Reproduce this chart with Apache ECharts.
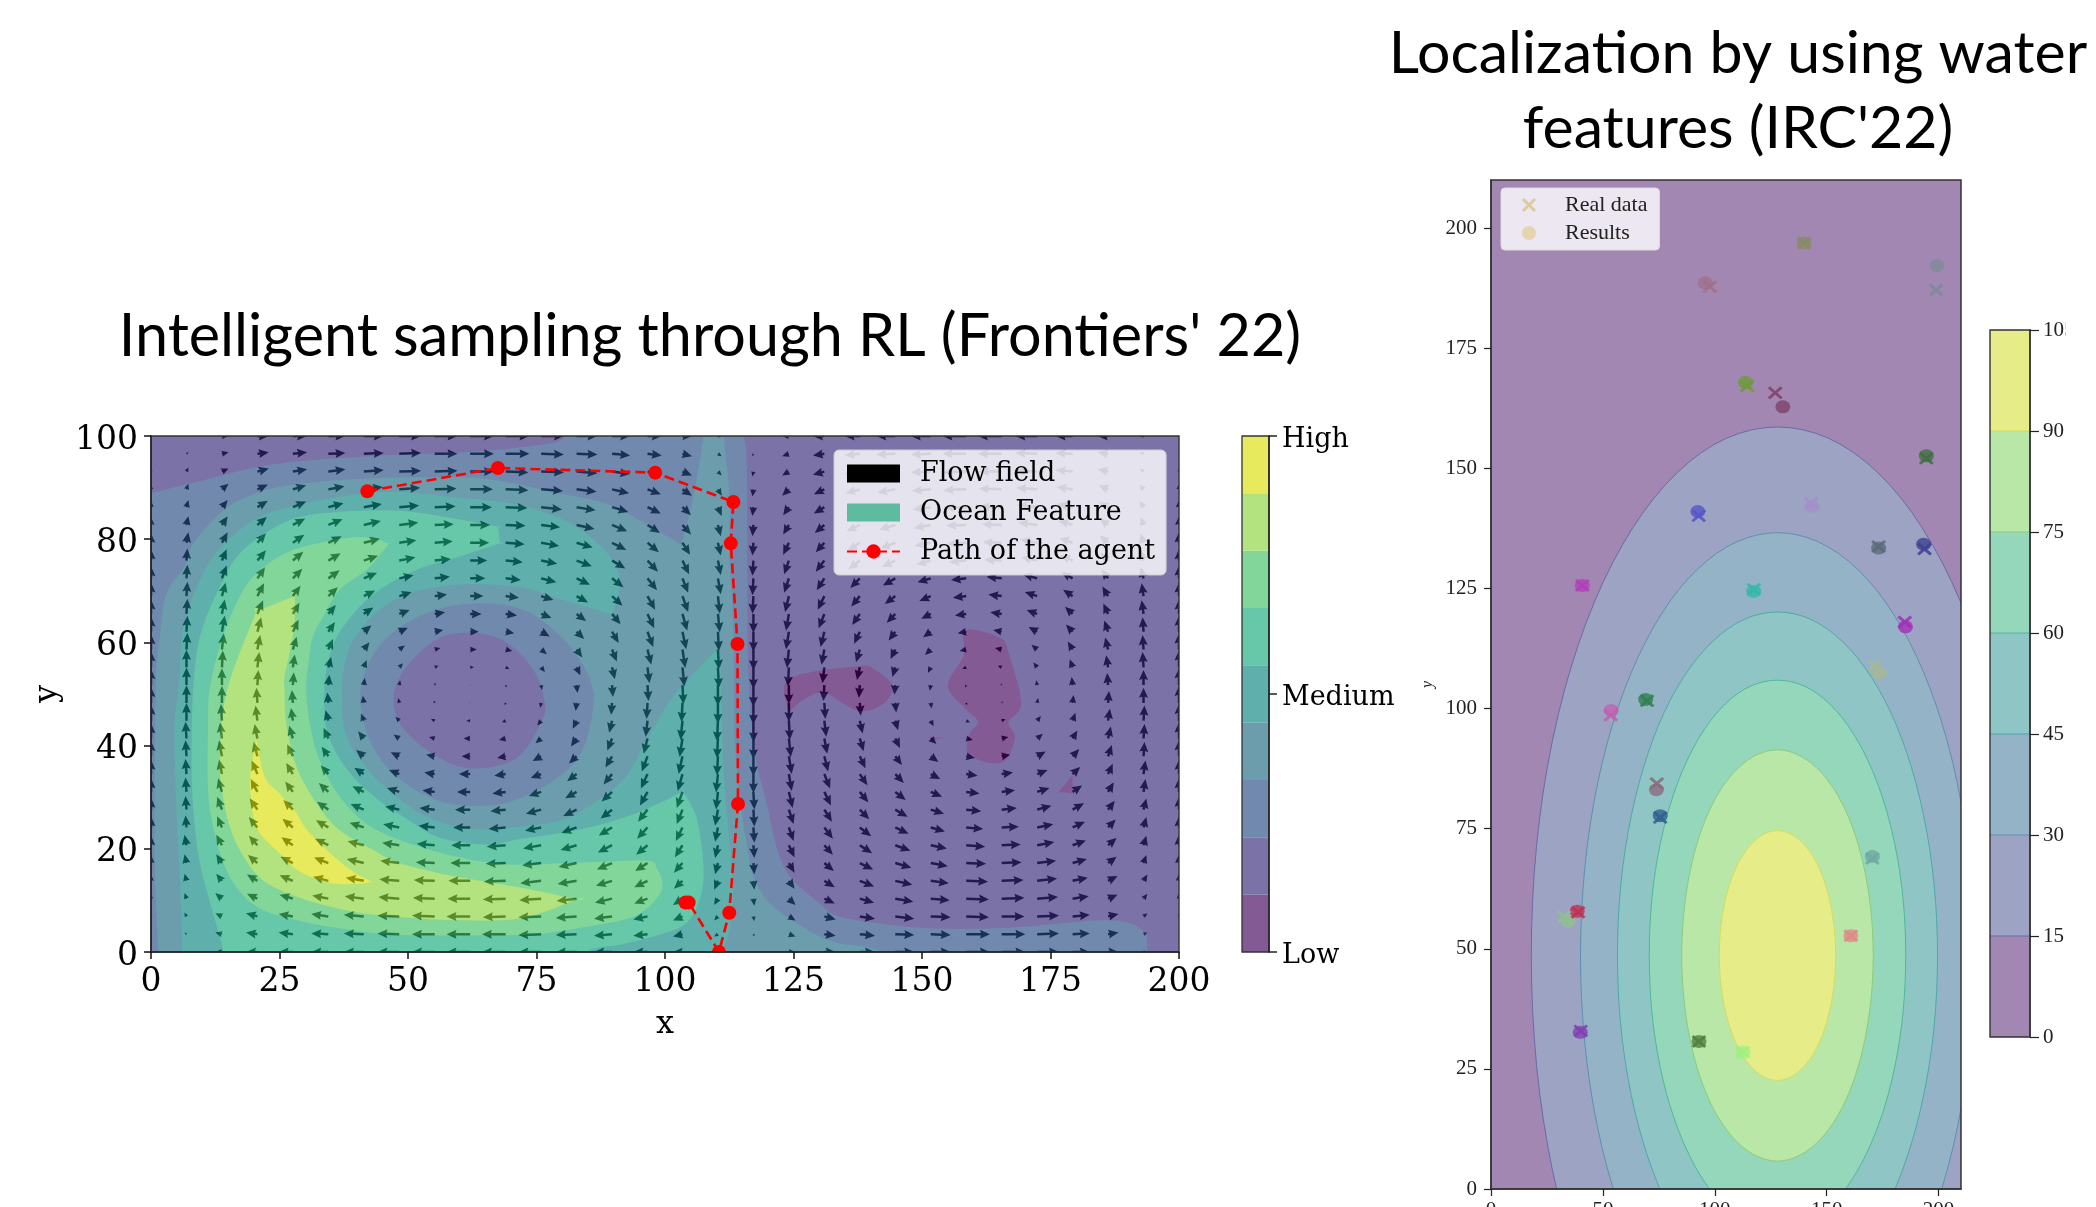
<!DOCTYPE html>
<html><head><meta charset="utf-8">
<style>html,body{margin:0;padding:0;background:#fff}#c{width:2096px;height:1207px}</style>
<script src="https://cdn.jsdelivr.net/npm/echarts@6/dist/echarts.min.js"></script>
</head><body><div id="c"></div>
<script>
// ---------- left plot: flow field ----------
const flowXs=[0,6.9,13.8,20.7,27.6,34.5,41.4,48.3,55.2,62.1,69,75.9,82.8,89.7,96.6,103.4,110.3,117.2,124.1,131,137.9,144.8,151.7,158.6,165.5,172.4,179.3,186.2,193.1,200];
const flowYs=[0,3.45,6.9,10.34,13.79,17.24,20.69,24.14,27.59,31.03,34.48,37.93,41.38,44.83,48.28,51.72,55.17,58.62,62.07,65.52,68.97,72.41,75.86,79.31,82.76,86.21,89.66,93.1,96.55,100];
const flowU=[
[0,-2,-7,-12,-15,-18,-21,-23,-24,-25,-25,-24,-22,-19,-15,-10,-4,1,7,12,16,20,21,25,25,23,18,11,4,0],
[0,-2,-7,-12,-15,-18,-21,-23,-24,-25,-25,-24,-22,-19,-15,-10,-4,1,7,12,16,20,21,25,25,23,18,11,4,0],
[0,-2,-7,-12,-15,-18,-21,-23,-24,-25,-24,-24,-22,-19,-15,-10,-4,1,7,12,16,20,21,24,24,23,18,11,4,0],
[0,-2,-7,-11,-14,-17,-20,-22,-23,-24,-24,-23,-21,-18,-14,-10,-4,1,7,11,15,19,20,24,24,22,17,10,4,0],
[0,-2,-6,-11,-14,-16,-19,-21,-22,-23,-23,-22,-20,-17,-14,-9,-4,1,6,11,15,18,19,23,23,21,16,10,4,0],
[0,-2,-6,-10,-13,-15,-18,-20,-20,-21,-21,-20,-19,-16,-13,-9,-3,1,6,10,14,17,18,21,21,20,15,9,3,0],
[0,-2,-6,-9,-12,-14,-17,-18,-19,-20,-20,-19,-17,-15,-12,-8,-3,1,6,9,13,16,17,20,20,18,14,9,3,0],
[0,-1,-5,-9,-11,-13,-15,-17,-17,-18,-18,-17,-16,-14,-11,-7,-3,1,5,9,12,14,15,18,18,17,13,8,3,0],
[0,-1,-5,-8,-10,-12,-14,-15,-16,-16,-16,-16,-14,-12,-10,-6,-3,1,5,8,10,13,14,16,16,15,12,7,3,0],
[0,-1,-4,-7,-8,-10,-12,-13,-13,-14,-14,-13,-12,-11,-8,-6,-2,1,4,7,9,11,12,14,14,13,10,6,2,0],
[0,-1,-3,-6,-7,-8,-10,-11,-11,-12,-12,-11,-10,-9,-7,-5,-2,0,3,6,8,9,10,12,12,11,8,5,2,0],
[0,-1,-3,-4,-6,-7,-8,-9,-9,-9,-9,-9,-8,-7,-6,-4,-1,0,3,4,6,7,8,9,9,9,7,4,1,0],
[0,-1,-2,-3,-4,-5,-6,-6,-6,-7,-7,-6,-6,-5,-4,-3,-1,0,2,3,4,5,6,7,7,6,5,3,1,0],
[0,0,-1,-2,-2,-3,-3,-4,-4,-4,-4,-4,-4,-3,-2,-2,-1,0,1,2,3,3,3,4,4,4,3,2,1,0],
[0,0,0,-1,-1,-1,-1,-1,-1,-1,-1,-1,-1,-1,-1,-1,0,0,0,1,1,1,1,1,1,1,1,1,0,0],
[0,0,0,1,1,1,1,1,1,1,1,1,1,1,1,1,0,0,0,-1,-1,-1,-1,-1,-1,-1,-1,-1,0,0],
[0,0,1,2,2,3,3,4,4,4,4,4,4,3,2,2,1,0,-1,-2,-3,-3,-3,-4,-4,-4,-3,-2,-1,0],
[0,1,2,3,4,5,6,6,6,7,7,6,6,5,4,3,1,0,-2,-3,-4,-5,-6,-7,-7,-6,-5,-3,-1,0],
[0,1,3,4,6,7,8,9,9,9,9,9,8,7,6,4,1,0,-3,-4,-6,-7,-8,-9,-9,-9,-7,-4,-1,0],
[0,1,3,6,7,8,10,11,11,12,12,11,10,9,7,5,2,0,-3,-6,-8,-9,-10,-12,-12,-11,-8,-5,-2,0],
[0,1,4,7,8,10,12,13,13,14,14,13,12,11,8,6,2,-1,-4,-7,-9,-11,-12,-14,-14,-13,-10,-6,-2,0],
[0,1,5,8,10,12,14,15,16,16,16,16,14,12,10,6,3,-1,-5,-8,-10,-13,-14,-16,-16,-15,-12,-7,-3,0],
[0,1,5,9,11,13,15,17,17,18,18,17,16,14,11,7,3,-1,-5,-9,-12,-14,-15,-18,-18,-17,-13,-8,-3,0],
[0,2,6,9,12,14,17,18,19,20,20,19,17,15,12,8,3,-1,-6,-9,-13,-16,-17,-20,-20,-18,-14,-9,-3,0],
[0,2,6,10,13,15,18,20,20,21,21,20,19,16,13,9,3,-1,-6,-10,-14,-17,-18,-21,-21,-20,-15,-9,-3,0],
[0,2,6,11,14,16,19,21,22,23,23,22,20,17,14,9,4,-1,-6,-11,-15,-18,-19,-23,-23,-21,-16,-10,-4,0],
[0,2,7,11,14,17,20,22,23,24,24,23,21,18,14,10,4,-1,-7,-11,-15,-19,-20,-24,-24,-22,-17,-10,-4,0],
[0,2,7,12,15,18,21,23,24,25,24,24,22,19,15,10,4,-1,-7,-12,-16,-20,-21,-24,-24,-23,-18,-11,-4,0],
[0,2,7,12,15,18,21,23,24,25,25,24,22,19,15,10,4,-1,-7,-12,-16,-20,-21,-25,-25,-23,-18,-11,-4,0],
[0,2,7,12,15,18,21,23,24,25,25,24,22,19,15,10,4,-1,-7,-12,-16,-20,-21,-25,-25,-23,-18,-11,-4,0]
];
const flowV=[
[0,0,0,0,0,0,0,0,0,0,0,0,0,0,0,0,0,0,0,0,0,0,0,0,0,0,0,0,0,0],
[2,2,2,2,2,1,1,1,0,0,0,-1,-1,-2,-2,-3,-3,-3,-3,-2,-2,-1,-1,0,0,1,1,2,2,2],
[4,5,4,4,3,3,2,1,1,0,-1,-1,-2,-3,-4,-5,-5,-6,-5,-4,-3,-3,-1,-1,0,1,2,3,4,4],
[6,7,7,6,5,4,3,2,1,0,-1,-2,-3,-5,-6,-8,-8,-9,-8,-6,-5,-4,-2,-1,1,2,3,5,6,7],
[8,9,9,8,7,5,4,2,1,0,-1,-3,-4,-6,-8,-10,-11,-11,-10,-8,-7,-5,-3,-1,1,3,4,6,8,9],
[10,11,11,10,8,7,5,3,1,0,-1,-3,-5,-8,-10,-12,-14,-14,-12,-10,-8,-6,-4,-1,1,3,5,8,10,11],
[12,13,13,12,10,8,5,3,2,0,-2,-4,-6,-9,-12,-15,-16,-16,-15,-12,-10,-7,-4,-2,1,4,6,9,12,13],
[14,15,14,13,11,9,6,4,2,0,-2,-4,-7,-10,-14,-17,-18,-19,-17,-14,-11,-8,-5,-2,1,4,7,10,13,14],
[15,17,16,14,12,10,7,4,2,0,-2,-5,-8,-11,-15,-18,-20,-21,-18,-15,-12,-9,-5,-2,2,5,8,11,14,16],
[17,18,17,16,13,11,7,5,2,0,-2,-5,-8,-12,-17,-20,-22,-22,-20,-17,-13,-10,-6,-2,2,5,8,12,16,17],
[18,19,18,17,14,11,8,5,2,0,-2,-5,-9,-13,-18,-21,-23,-24,-21,-18,-14,-11,-6,-2,2,5,9,13,17,18],
[19,20,20,18,15,12,8,5,2,0,-2,-6,-9,-14,-19,-22,-24,-25,-22,-19,-15,-11,-7,-2,2,6,9,14,18,20],
[19,21,20,18,16,13,9,5,2,0,-2,-6,-10,-15,-19,-23,-25,-26,-23,-19,-16,-12,-7,-2,2,6,10,15,18,20],
[20,22,21,19,16,13,9,5,2,0,-2,-6,-10,-15,-20,-24,-26,-27,-24,-20,-16,-12,-7,-2,2,6,10,15,19,21],
[20,22,21,19,16,13,9,6,3,0,-3,-6,-10,-15,-20,-24,-26,-27,-24,-20,-16,-12,-7,-3,2,6,10,15,19,21],
[20,22,21,19,16,13,9,6,3,0,-3,-6,-10,-15,-20,-24,-26,-27,-24,-20,-16,-12,-7,-3,2,6,10,15,19,21],
[20,22,21,19,16,13,9,5,2,0,-2,-6,-10,-15,-20,-24,-26,-27,-24,-20,-16,-12,-7,-2,2,6,10,15,19,21],
[19,21,20,18,16,13,9,5,2,0,-2,-6,-10,-15,-19,-23,-25,-26,-23,-19,-16,-12,-7,-2,2,6,10,15,18,20],
[19,20,20,18,15,12,8,5,2,0,-2,-6,-9,-14,-19,-22,-24,-25,-22,-19,-15,-11,-7,-2,2,6,9,14,18,20],
[18,19,18,17,14,11,8,5,2,0,-2,-5,-9,-13,-18,-21,-23,-24,-21,-18,-14,-11,-6,-2,2,5,9,13,17,18],
[17,18,17,16,13,11,7,5,2,0,-2,-5,-8,-12,-17,-20,-22,-22,-20,-17,-13,-10,-6,-2,2,5,8,12,16,17],
[15,17,16,14,12,10,7,4,2,0,-2,-5,-8,-11,-15,-18,-20,-21,-18,-15,-12,-9,-5,-2,2,5,8,11,14,16],
[14,15,14,13,11,9,6,4,2,0,-2,-4,-7,-10,-14,-17,-18,-19,-17,-14,-11,-8,-5,-2,1,4,7,10,13,14],
[12,13,13,12,10,8,5,3,2,0,-2,-4,-6,-9,-12,-15,-16,-16,-15,-12,-10,-7,-4,-2,1,4,6,9,12,13],
[10,11,11,10,8,7,5,3,1,0,-1,-3,-5,-8,-10,-12,-14,-14,-12,-10,-8,-6,-4,-1,1,3,5,8,10,11],
[8,9,9,8,7,5,4,2,1,0,-1,-3,-4,-6,-8,-10,-11,-11,-10,-8,-7,-5,-3,-1,1,3,4,6,8,9],
[6,7,7,6,5,4,3,2,1,0,-1,-2,-3,-5,-6,-8,-8,-9,-8,-6,-5,-4,-2,-1,1,2,3,5,6,7],
[4,5,4,4,3,3,2,1,1,0,-1,-1,-2,-3,-4,-5,-5,-6,-5,-4,-3,-3,-1,-1,0,1,2,3,4,4],
[2,2,2,2,2,1,1,1,0,0,0,-1,-1,-2,-2,-3,-3,-3,-3,-2,-2,-1,-1,0,0,1,1,2,2,2],
[0,0,0,0,0,0,0,0,0,0,0,0,0,0,0,0,0,0,0,0,0,0,0,0,0,0,0,0,0,0]
];
// ---------- left plot: ocean feature contour outlines ----------
const oceanL2=[[-60,-60],[-6,88],[0,89],[9.7,91.3],[23.6,94.5],[44.5,96.2],[61.9,96.9],[75.8,98.3],[80.7,100],[83,106],[114.6,106],[115.4,100],[115.9,94.7],[116,81.8],[116.2,54.7],[117.5,38.5],[119.8,28.8],[121.7,20.4],[124.3,14.6],[130.1,9.4],[133.8,6.9],[144.2,5.2],[154.7,4.5],[168.6,4.8],[186,6.2],[192.9,4.2],[193.9,0],[194.5,-6]];
const oceanL3=[[1.4,-6],[1.4,0],[0.7,18.5],[0.9,50.8],[1.7,61.1],[3,69.5],[6.6,74.7],[8.2,79.2],[13.4,85],[17.3,87.6],[23.8,89.9],[33.5,91.2],[43.2,91.8],[54.9,92],[65.4,91.7],[79.3,88.9],[87.3,87.3],[93.2,84.7],[103.2,78.9],[103.2,78.9],[105.5,88.2],[107.4,99.5],[108,106],[111.5,106],[111.5,99.5],[112.6,87.6],[112.5,77.3],[113.3,62.4],[113.6,40.4],[114.9,27.5],[115.9,21.1],[117.2,14.6],[120.4,9.4],[125.6,5.6],[130.1,3],[133.8,1.7],[142.1,0],[146,-6]];
const oceanRing=[[61.9,67.5],[72.3,66.4],[80.7,60.2],[85.5,52.6],[85.9,46.4],[83.4,38.1],[77.2,32.5],[68.2,28.7],[58.4,28.7],[50.8,31.8],[45.2,36.7],[42.1,42.2],[40.7,49.1],[42.1,55.4],[45.9,60.9],[52.9,65.4]];
const oceanCore=[[61.9,61.9],[68.8,60.2],[74.4,54.7],[76.6,48.4],[75.8,44.3],[70.9,37.4],[61.9,35.6],[54.2,38.8],[48,45],[48,52.6],[54.9,60.2]];
const oceanL4=[[6.1,-6],[6.1,0],[5.7,12],[4.8,31.4],[4.6,44.3],[5.3,50.8],[5.6,53.4],[6.2,62.4],[9.5,72.1],[13.7,78.6],[20.5,84],[28.3,86.6],[39.3,88.6],[48.4,89.2],[58.4,88.2],[72.3,86.5],[82.8,82.4],[89.7,76.1],[91.2,70.6],[89.7,65.4],[89.7,65.4],[79.3,68.5],[72.3,70.6],[61.9,71.3],[51.5,69.9],[44.5,66.4],[39.6,60.9],[37.6,55.4],[37.2,49.1],[37.9,42.2],[41.7,36],[46.6,31.1],[53.5,26.3],[61.9,23.9],[71.8,24.3],[81.5,26.2],[91.2,32.7],[95.8,39.8],[100.6,48.2],[106.8,55.3],[110,58.5],[110,58.5],[110.7,56.6],[111.3,37.2],[112.3,24.3],[113.3,11.4],[112.3,3],[110.7,0],[110,-6]];
const oceanL5=[[14,-6],[14,0],[13,4.3],[9.5,17.2],[8.2,28.2],[7.9,37.9],[8.2,50.8],[9.5,61.1],[13.4,70.8],[17.9,77.9],[27,83.7],[36.7,85.3],[48.4,85.5],[58.4,84.1],[67.5,82.4],[67.5,82.4],[67.9,79.2],[67.9,79.2],[58.4,76.1],[51.5,74],[43.1,69.2],[36.9,62.3],[34.4,56.1],[33.7,49.1],[34.4,42.2],[38.2,35.3],[43.8,29.8],[50.1,25.6],[56.3,22.1],[65.4,20.8],[71.8,21.9],[82.8,23.6],[92.5,26.2],[98.8,28.8],[103.5,31.1],[103.5,31.1],[106.1,26.2],[107.4,17.8],[107.1,11.4],[104.2,5.6],[97.7,3],[91.2,1.4],[84.7,0],[80,-6]];
const oceanL6=[[48.4,3.3],[36.7,4.6],[28.3,6.2],[20.5,8.8],[15.3,14.6],[12.4,23],[11.1,31.4],[11.1,44.3],[11.4,50.8],[13.4,59.2],[16.6,67.6],[20.5,73.4],[27.6,77.9],[38,80.2],[43.2,80.2],[46.3,79.1],[46.3,79.1],[44.5,76.9],[41.9,74],[36.7,70.2],[33.5,65],[31.5,61.1],[30.6,55.9],[30.2,50.8],[30.9,44.3],[32.8,37.2],[36.7,30.1],[41.9,24.9],[48.4,21.7],[58.4,18.7],[68.8,17],[79.6,17.2],[88,17.5],[96.8,17.7],[98.4,16.2],[99.5,13.3],[98.4,10.4],[93.8,6.8],[84.7,4.9],[78.2,3.9],[71.8,3.3]];
const oceanL7=[[14.8,50.8],[20.5,66],[20.5,66],[28,69],[28,69],[27.8,62.4],[26,53.4],[26,50.8],[26.3,44.3],[28.3,35.9],[32.2,28.8],[36.7,23.6],[43.2,19.8],[48.4,17.2],[58.4,14.8],[71.8,12.5],[82.8,10.2],[82.8,10.2],[71.8,6.5],[58.4,6.2],[48.4,6.8],[39.3,7.8],[30.2,10.1],[23.7,12.7],[19.8,15.9],[16,22.4],[14,30.1],[13.4,37.9]];
const oceanL8=[[20.5,41.1],[20.5,41.1],[22.1,34],[25,30.7],[28.3,26.9],[30.9,23],[38,16.5],[42.9,13.6],[42.9,13.6],[40,13.2],[34.8,13.4],[28.9,15.6],[25.7,18.5],[20.8,23.6],[19.5,29.5],[19.3,34],[19.9,37.9]];
const oceanIslandA=[[124.1,52.9],[137.6,55.4],[140.8,54.7],[144.2,51.6],[142.5,48.1],[137.6,46.7],[131,50.2],[126.8,48.8],[124.1,46.4],[124.1,46.4]];
const oceanIslandB=[[158.5,62.4],[165.1,60.9],[166.8,58.1],[169.3,48.1],[166.8,44.6],[168.1,41.5],[165.5,36.7],[159.2,38.1],[159.2,42.2],[160.9,44.6],[158.5,47.1],[155,51.6],[158.1,57.4]];
const oceanIslandC=[[179.3,34.3],[179.3,34.3],[179.3,30.8],[179.3,30.8],[176.6,31],[176.6,31]];
const oceanIslandD=[[151.5,41.7],[151.5,41.7],[154.3,41.5],[154.3,41.5],[151.9,41.2]];
// level colours
const oceanPalette=['#835a93','#7b72a8','#7189ad','#6b9dad','#5fafac','#66c7a9','#83d69a','#b2e37e','#e6ea5c'];
const oceanPolys=[oceanL2,oceanL3,oceanRing,oceanCore,oceanL4,oceanL5,oceanL6,oceanL7,oceanL8,oceanIslandA,oceanIslandB,oceanIslandC,oceanIslandD];
const oceanPolyLevels=[2,3,2,1,4,5,6,7,8,0,0,0,0];
// agent path
const pathXs=[42.1,67.5,98.1,113.3,112.8,114.1,114.2,112.5,110.5,104.6,104.0];
const pathYs=[89.3,93.8,92.9,87.2,79.2,59.7,28.7,7.6,0,9.6,9.6];
// left axes
const leftXTicks=[0,25,50,75,100,125,150,175,200];
const leftYTicks=[0,20,40,60,80,100];
const leftBarLabels={0:'Low',4.5:'Medium',9:'High'};
// ---------- right plot ----------
const gaussLevels=[0,15,30,45,60,75,90,105];
const gaussPalette=['#a287b3','#9da3c3','#95b3c7','#8fc5c4','#94d7bb','#b8e7a7','#e6ec87'];
const gaussLineColors=['#6a6aa8','#5f8fb0','#4fa8a8','#50b898','#8ccc78','#d2de60'];
const gauss15=[[238,48.6],[234.3,77.1],[223.3,103.6],[205.8,126.4],[183,143.9],[156.5,154.9],[128,158.6],[99.5,154.9],[73,143.9],[50.2,126.4],[32.7,103.6],[21.7,77.1],[18,48.6],[21.7,20.1],[32.7,-6.4],[50.2,-29.2],[73,-46.7],[99.5,-57.7],[128,-61.4],[156.5,-57.7],[183,-46.7],[205.8,-29.2],[223.3,-6.4],[234.3,20.1]];
const gauss30=[[216,48.6],[213,71.4],[204.2,92.6],[190.2,110.8],[172,124.8],[150.8,133.6],[128,136.6],[105.2,133.6],[84,124.8],[65.8,110.8],[51.8,92.6],[43,71.4],[40,48.6],[43,25.8],[51.8,4.6],[65.8,-13.6],[84,-27.6],[105.2,-36.4],[128,-39.4],[150.8,-36.4],[172,-27.6],[190.2,-13.6],[204.2,4.6],[213,25.8]];
const gauss45=[[199.5,48.6],[197.1,67.1],[189.9,84.4],[178.6,99.2],[163.8,110.5],[146.5,117.7],[128,120.1],[109.5,117.7],[92.2,110.5],[77.4,99.2],[66.1,84.4],[58.9,67.1],[56.5,48.6],[58.9,30.1],[66.1,12.8],[77.4,-2],[92.2,-13.3],[109.5,-20.5],[128,-22.9],[146.5,-20.5],[163.8,-13.3],[178.6,-2],[189.9,12.8],[197.1,30.1]];
const gauss60=[[185.3,48.6],[183.4,63.4],[177.6,77.3],[168.5,89.1],[156.7,98.2],[142.8,104],[128,105.9],[113.2,104],[99.3,98.2],[87.5,89.1],[78.4,77.3],[72.6,63.4],[70.7,48.6],[72.6,33.8],[78.4,19.9],[87.5,8.1],[99.3,-1],[113.2,-6.8],[128,-8.7],[142.8,-6.8],[156.7,-1],[168.5,8.1],[177.6,19.9],[183.4,33.8]];
const gauss75=[[170.8,48.6],[169.3,59.7],[165.1,70],[158.3,78.9],[149.4,85.7],[139.1,89.9],[128,91.4],[116.9,89.9],[106.6,85.7],[97.7,78.9],[90.9,70],[86.7,59.7],[85.2,48.6],[86.7,37.5],[90.9,27.2],[97.7,18.3],[106.6,11.5],[116.9,7.3],[128,5.8],[139.1,7.3],[149.4,11.5],[158.3,18.3],[165.1,27.2],[169.3,37.5]];
const gauss90=[[154,48.6],[153.1,55.3],[150.5,61.6],[146.4,67],[141,71.1],[134.7,73.7],[128,74.6],[121.3,73.7],[115,71.1],[109.6,67],[105.5,61.6],[102.9,55.3],[102,48.6],[102.9,41.9],[105.5,35.6],[109.6,30.2],[115,26.1],[121.3,23.5],[128,22.6],[134.7,23.5],[141,26.1],[146.4,30.2],[150.5,35.6],[153.1,41.9]];
const gaussPolys=[gauss15,gauss30,gauss45,gauss60,gauss75,gauss90];
const realXs=[139.9,198.9,97.8,114.5,127,194.5,142.9,92.8,173.2,193.7,40.8,117.4,184.9,171.6,69.7,53.5,74.1,75.6,170.4,38.9,32.7,160.8,40.1,92.9,112.6];
const realYs=[196.9,187.1,187.8,167.1,165.7,152.1,142.8,140.1,133.7,133.2,125.6,124.8,118,108.8,101.6,98.6,84.4,77.3,68.8,57.6,56.7,52.7,32.9,30.7,28.5];
const resultXs=[139.9,199.3,95.7,113.7,130.4,194.5,143.5,92.4,173.2,193.3,40.8,117.4,185.2,173.5,69.1,53.7,73.9,75.6,170.4,38.5,34.5,160.8,39.9,92.9,112.6];
const resultYs=[196.9,192.2,188.6,167.9,162.8,152.6,142.1,141,133.4,134.2,125.6,124.4,117,107.3,101.9,99.6,83.1,77.7,69.2,57.8,55.7,52.7,32.6,30.7,28.5];
const pointColors=['#8a8a68','#7d8a98','#a0708a','#6d9a3a','#7d3f6a','#3f6f3f','#a48fc8','#5555c8','#5a6a78','#3f3f90','#b040b8','#30b8a8','#a030b8','#a8b890','#2f7f4f','#c060b0','#8a6a80','#2f5f90','#70a8a0','#c03050','#90c090','#e08888','#8040b0','#4f7f3f','#a0f080'];
const rightXTicks=[0,50,100,150,200];
const rightYTicks=[0,25,50,75,100,125,150,175,200];
// ---------- helpers ----------
function smoothLoop(pts){ // closed Catmull-Rom through the traced points
  const o=[],n=pts.length;
  for(let i=0;i<n;i++){
    const a=pts[(i-1+n)%n],b=pts[i],c=pts[(i+1)%n],d=pts[(i+2)%n];
    for(let s=0;s<5;s++){const t=s/5,t2=t*t,t3=t2*t;
      o.push([0,1].map(k=>.5*(2*b[k]+(c[k]-a[k])*t+(2*a[k]-5*b[k]+4*c[k]-d[k])*t2+(3*b[k]-a[k]-3*c[k]+d[k])*t3)));}
  }
  return o;
}
function arrowPoly(p,u,v){
  u*=0.95;v*=0.8;
  let L=Math.hypot(u,v); if(!L) return null;
  const dx=u/L,dy=-v/L;
  let sw=2.5,hl=10,hw=9,ha=9;
  if(L<hl){const k=L/hl;sw*=k;hl*=k;hw*=k;ha*=k;}
  const P=(a,b)=>[p[0]+dx*a-dy*b,p[1]+dy*a+dx*b];
  return [P(0,-sw/2),P(L-ha,-sw/2),P(L-hl,-hw/2),P(L,0),P(L-hl,hw/2),P(L-ha,sw/2),P(0,sw/2)];
}
const flowData=[];
flowYs.forEach((y,j)=>flowXs.forEach((x,i)=>flowData.push([x,y,flowU[j][i],flowV[j][i]])));
const idx=a=>a.map((_,i)=>[i]);
const xCross='path://M1.5,0L5,3.5L8.5,0L10,1.5L6.5,5L10,8.5L8.5,10L5,6.5L1.5,10L0,8.5L3.5,5L0,1.5Z';
const serif='DejaVu Serif', cm='Liberation Serif';
const pad=(t,o)=>Object.assign({},t,o);
const tickL={show:true,length:7,lineStyle:{color:'#111',width:1.5}};
const lineL={show:true,onZero:false,lineStyle:{color:'#222',width:1.5}};
const tickR={show:true,length:7,lineStyle:{color:'#222',width:1.2}};
const lineR={show:true,onZero:false,lineStyle:{color:'#333',width:1.5}};
const frameItem=(x0,x1,y0,y1,c,w)=>(p,api)=>{const a=api.coord([x0,y1]),b=api.coord([x1,y0]);
  return {type:'rect',shape:{x:a[0],y:a[1],width:b[0]-a[0],height:b[1]-a[1]},style:{fill:'none',stroke:c,lineWidth:w}};};
// all arrows form one path so that overlapping arrows do not blend twice
const renderFlow=(p,api)=>{
  let d='',x0=1e9,y0=1e9,x1=-1e9,y1=-1e9;
  flowData.forEach(f=>{const pts=arrowPoly(api.coord([f[0],f[1]]),f[2],f[3]);if(!pts)return;
    pts.forEach((q,i)=>{d+=(i?'L':'M')+q[0].toFixed(2)+' '+q[1].toFixed(2);x0=Math.min(x0,q[0]);y0=Math.min(y0,q[1]);x1=Math.max(x1,q[0]);y1=Math.max(y1,q[1]);});
    d+='Z';});
  return {type:'path',shape:{pathData:d,x:x0,y:y0,width:x1-x0,height:y1-y0,layout:'cover'},style:{fill:'rgb(88,88,88)'}};
};

const option={
  animation:false,
  backgroundColor:'#fff',
  title:[
    {text:"Intelligent sampling through RL (Frontiers' 22)",left:705,top:302,textAlign:'center',textStyle:{fontFamily:'Lato',fontWeight:'normal',fontSize:59.3,color:'#000'}},
    {text:"Localization by using water\nfeatures (IRC'22)",left:1733,top:11,textAlign:'center',textStyle:{fontFamily:'Lato',fontWeight:'normal',fontSize:59,lineHeight:75,color:'#000'}}
  ],
  grid:[
    {left:151,top:436,width:1028,height:516,show:true,backgroundColor:oceanPalette[1],borderWidth:0,outerBoundsMode:'none'},
    {left:1242,top:436,width:27,height:516,outerBoundsMode:'none'},
    {left:1491,top:180,width:470,height:1009,show:true,backgroundColor:gaussPalette[0],borderWidth:0,outerBoundsMode:'none'},
    {left:1990,top:330,width:40,height:707,outerBoundsMode:'none'}
  ],
  xAxis:[
    {gridIndex:0,type:'value',min:0,max:200,interval:25,z:10,name:'x',nameLocation:'middle',nameGap:57,nameTextStyle:{fontFamily:serif,fontSize:32,color:'#000'},
     axisLine:lineL,axisTick:tickL,splitLine:{show:false},axisLabel:{customValues:leftXTicks,fontFamily:serif,fontSize:33,color:'#000',margin:14}},
    {gridIndex:1,type:'value',min:0,max:1,show:false},
    {gridIndex:2,type:'value',min:0,max:210,z:10,name:'',axisLine:lineR,axisTick:pad(tickR,{customValues:rightXTicks}),splitLine:{show:false},
     axisLabel:{customValues:rightXTicks,fontFamily:cm,fontSize:21,color:'#222',margin:11}},
    {gridIndex:3,type:'value',min:0,max:1,show:false}
  ],
  yAxis:[
    {gridIndex:0,type:'value',min:0,max:100,interval:20,z:10,name:'y',nameLocation:'middle',nameGap:87,nameTextStyle:{fontFamily:serif,fontSize:32,color:'#000'},
     axisLine:lineL,axisTick:tickL,splitLine:{show:false},
     axisLabel:{customValues:leftYTicks,margin:13,formatter:v=>'{a|'+v+'}',rich:{a:{fontFamily:serif,fontSize:33,color:'#000',padding:[8,0,0,0]}}}},
    {gridIndex:1,type:'value',min:0,max:9,position:'right',z:10,axisLine:{show:true,onZero:false,lineStyle:{color:'#222',width:1.5}},
     axisTick:{show:true,length:8,customValues:[0,4.5,9],lineStyle:{color:'#222',width:1.5}},splitLine:{show:false},
     axisLabel:{customValues:[0,4.5,9],margin:13,formatter:v=>'{a|'+leftBarLabels[v]+'}',rich:{a:{fontFamily:serif,fontSize:27,color:'#000',padding:[8,0,0,0]}}}},
    {gridIndex:2,type:'value',min:0,max:210,z:10,name:'y',nameLocation:'middle',nameGap:55,nameTextStyle:{fontFamily:cm,fontStyle:'italic',fontSize:16,color:'#222'},
     axisLine:lineR,axisTick:pad(tickR,{customValues:rightYTicks}),splitLine:{show:false},
     axisLabel:{customValues:rightYTicks,fontFamily:cm,fontSize:21,color:'#222',margin:14}},
    {gridIndex:3,type:'value',min:0,max:105,interval:15,position:'right',z:10,axisLine:lineR,axisTick:pad(tickR,{length:9}),splitLine:{show:false},
     axisLabel:{fontFamily:cm,fontSize:21,color:'#222',margin:13}}
  ],
  legend:[
    {show:true,orient:'vertical',left:834,top:450,padding:[10,11,10,12],itemWidth:53,itemHeight:18,itemGap:12,
     backgroundColor:'rgba(255,255,255,0.8)',borderColor:'#ccc',borderWidth:1,borderRadius:5,
     textStyle:{fontFamily:serif,fontSize:27,color:'#000',padding:[0,0,0,15]},
     data:[{name:'Flow field',icon:'rect'},{name:'Ocean Feature',icon:'rect'},{name:'Path of the agent'}]},
    {show:true,orient:'vertical',left:1501,top:188,padding:[6,12,6,21],itemWidth:20,itemHeight:14,itemGap:6,
     backgroundColor:'rgba(255,255,255,0.8)',borderColor:'#ddd',borderWidth:1,borderRadius:4,
     textStyle:{fontFamily:cm,fontSize:22,color:'#222',padding:[0,0,0,21]},
     data:[{name:'Real data',icon:xCross},{name:'Results',icon:'circle'}]}
  ],
  graphic:[{type:'rect',z:100,silent:true,shape:{x:2065.5,y:316,width:31,height:30},style:{fill:'#fff'}}],
  series:[
    {name:'Ocean Feature',type:'custom',xAxisIndex:0,yAxisIndex:0,clip:true,z:1,silent:true,itemStyle:{color:'#5fbba0'},
     data:idx(oceanPolys),renderItem:(p,api)=>{const k=api.value(0);
       return {type:'polygon',shape:{points:smoothLoop(oceanPolys[k].map(q=>api.coord(q)))},style:{fill:oceanPalette[oceanPolyLevels[k]]}};}},
    {name:'Flow field',type:'custom',xAxisIndex:0,yAxisIndex:0,clip:true,z:2,silent:true,blendMode:'difference',itemStyle:{color:'#000'},
     data:[[0]],renderItem:renderFlow},
    {name:'Path of the agent',type:'line',xAxisIndex:0,yAxisIndex:0,clip:true,z:3,silent:true,symbol:'circle',symbolSize:14,showSymbol:true,
     lineStyle:{color:'#ff0000',width:2.6,type:[10,5]},itemStyle:{color:'#ff0000'},
     data:pathXs.map((x,i)=>pathYs[i]===0?{value:[x,0],symbol:'none'}:[x,pathYs[i]])},
    {name:'pathEdgeMarker',type:'custom',xAxisIndex:0,yAxisIndex:0,clip:true,z:3,silent:true,
     data:pathXs.map((x,i)=>[x,pathYs[i]]).filter(d=>d[1]===0),
     renderItem:(p,api)=>{const c=api.coord([api.value(0),api.value(1)]);return {type:'circle',shape:{cx:c[0],cy:c[1],r:7},style:{fill:'#ff0000'}};}},
    {name:'leftFrame',type:'custom',xAxisIndex:0,yAxisIndex:0,clip:false,z:3,silent:true,data:[[0]],renderItem:frameItem(0,200,0,100,'#333',1.4)},
    {name:'leftBar',type:'custom',xAxisIndex:1,yAxisIndex:1,silent:true,z:1,data:idx(oceanPalette),
     renderItem:(p,api)=>{const k=api.value(0),a=api.coord([0,k+1]),b=api.coord([1,k]);
       return {type:'rect',shape:{x:a[0],y:a[1],width:b[0]-a[0],height:b[1]-a[1]},style:{fill:oceanPalette[k]}};}},
    {name:'leftBarFrame',type:'custom',xAxisIndex:1,yAxisIndex:1,silent:true,z:2,data:[[0]],renderItem:frameItem(0,1,0,9,'#333',1.3)},
    {name:'Gaussian field',type:'custom',xAxisIndex:2,yAxisIndex:2,clip:true,z:1,silent:true,
     data:idx(gaussPolys),renderItem:(p,api)=>{const k=api.value(0);
       return {type:'polygon',shape:{points:smoothLoop(gaussPolys[k].map(q=>api.coord(q)))},style:{fill:gaussPalette[k+1],stroke:gaussLineColors[k],lineWidth:1}};}},
    {name:'rightFrame',type:'custom',xAxisIndex:2,yAxisIndex:2,clip:false,z:3,silent:true,data:[[0]],renderItem:frameItem(0,210,0,210,'#333',1.5)},
    {name:'Results',type:'scatter',xAxisIndex:2,yAxisIndex:2,z:3,silent:true,symbol:'circle',symbolSize:[15,13],itemStyle:{color:'#e3cf9c'},
     data:resultXs.map((x,i)=>({value:[x,resultYs[i]],itemStyle:{color:pointColors[i],opacity:.78}}))},
    {name:'Real data',type:'scatter',xAxisIndex:2,yAxisIndex:2,z:3,silent:true,symbol:xCross,symbolSize:[15,13],itemStyle:{color:'#d9c48c'},
     data:realXs.map((x,i)=>({value:[x,realYs[i]],itemStyle:{color:pointColors[i],opacity:.85}}))},
    {name:'rightBar',type:'custom',xAxisIndex:3,yAxisIndex:3,silent:true,z:1,data:idx(gaussPalette),
     renderItem:(p,api)=>{const k=api.value(0),a=api.coord([0,gaussLevels[k+1]]),b=api.coord([1,gaussLevels[k]]);
       return {type:'rect',shape:{x:a[0],y:a[1],width:b[0]-a[0],height:b[1]-a[1]},style:{fill:gaussPalette[k]}};}},
    {name:'rightBarLines',type:'custom',xAxisIndex:3,yAxisIndex:3,silent:true,z:2,data:idx(gaussLineColors),
     renderItem:(p,api)=>{const k=api.value(0),a=api.coord([0,gaussLevels[k+1]]),b=api.coord([1,gaussLevels[k+1]]);
       return {type:'line',shape:{x1:a[0],y1:a[1],x2:b[0],y2:b[1]},style:{stroke:gaussLineColors[k],lineWidth:1.2}};}},
    {name:'rightBarFrame',type:'custom',xAxisIndex:3,yAxisIndex:3,silent:true,z:3,data:[[0]],renderItem:frameItem(0,1,0,105,'#333',1.4)}
  ]
};
echarts.init(document.getElementById('c'),null,{renderer:'canvas'}).setOption(option);
</script></body></html>
